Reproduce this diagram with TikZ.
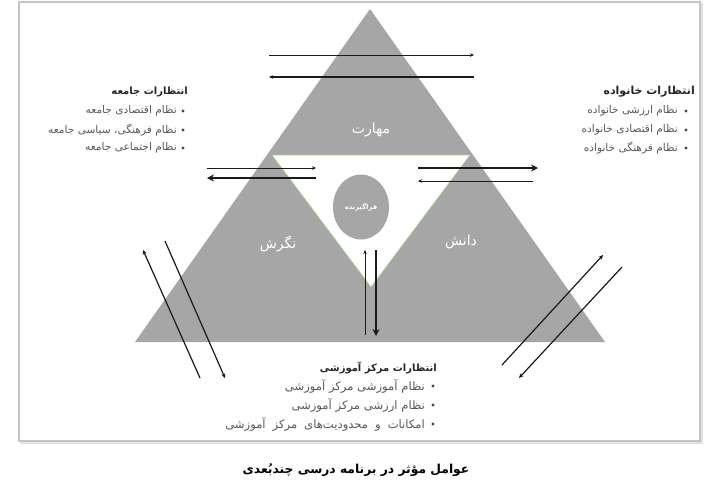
\documentclass[tikz,border=0pt]{standalone}
\usepackage{fontspec}
\setmainfont{DejaVu Sans}
\newfontfamily\arabicfont[Script=Arabic]{DejaVu Sans}
\TeXXeTstate=1
\usetikzlibrary{arrows.meta,shapes.geometric}
\definecolor{trigray}{HTML}{A6A6A6}
\definecolor{itemgray}{HTML}{595959}
\definecolor{headgray}{HTML}{262626}
\definecolor{edgegreen}{HTML}{A8D08D}
\definecolor{framegray}{HTML}{C4C4C4}
\definecolor{arrowblack}{HTML}{1A1A1A}
\tikzset{
  itemtext/.style={font=\arabicfont\fontsize{10.6}{12}\selectfont, text=itemgray, anchor=east, inner sep=0pt},
  bigitemtext/.style={font=\arabicfont\fontsize{11.6}{13}\selectfont, text=itemgray, anchor=east, inner sep=0pt},
  headtext/.style={font=\arabicfont\bfseries\fontsize{10}{12}\selectfont, text=headgray, anchor=east, inner sep=0pt},
  bulletdot/.style={circle, fill=itemgray!80!black, inner sep=0pt, minimum size=3.2pt},
  trilabel/.style={text=white, font=\arabicfont\fontsize{14}{16}\selectfont, inner sep=0pt},
  thinarrow/.style={draw=arrowblack, line width=0.9pt, -{Stealth[length=4pt,width=3.5pt]}},
  thickarrow/.style={draw=arrowblack, line width=2.2pt, -{Stealth[length=7pt,width=7pt]}},
  diagarrow/.style={draw=arrowblack, line width=1.2pt, -{Stealth[length=4.5pt,width=4pt]}},
}
\begin{document}
\begin{tikzpicture}[x=1pt,y=-1pt]
\useasboundingbox (0,0) rectangle (719,499);
% frame
\draw[draw=framegray!50, line width=2pt] (21,4) rectangle (702,443);
\draw[draw=framegray, line width=1.5pt, fill=white] (19,2) rectangle (700,441);
% big triangle
\fill[trigray] (370,9) -- (605,342) -- (135,342) -- cycle;
% inner inverted triangle
\filldraw[fill=white, draw=edgegreen, line width=0.6pt] (272,155) -- (470,155) -- (371,287) -- cycle;
% learner circle
\node[ellipse, fill=trigray, minimum width=56pt, minimum height=65pt, inner sep=0pt] (learner) at (361,207) {};
\node[text=white, font=\arabicfont\bfseries\fontsize{6.8}{8}\selectfont, inner sep=0pt] (learnerlabel) at (learner.center) {\beginR فراگیرنده\endR};
% triangle labels
\node[trilabel] (skill) at (371,130) {\beginR مهارت\endR};
\node[trilabel] (attitude) at (278,244) {\beginR نگرش\endR};
\node[trilabel] (knowledge) at (461,242) {\beginR دانش\endR};
% arrow coordinates
\coordinate (t1a) at (269,55); \coordinate (t1b) at (474,55);
\coordinate (t2a) at (474,77); \coordinate (t2b) at (269,77);
\coordinate (l1a) at (207,168); \coordinate (l1b) at (316,168);
\coordinate (l2a) at (316,178); \coordinate (l2b) at (207,178);
\coordinate (r1a) at (418,168); \coordinate (r1b) at (538,168);
\coordinate (r2a) at (533,181); \coordinate (r2b) at (418,181);
\coordinate (v1a) at (365,335); \coordinate (v1b) at (365,250);
\coordinate (v2a) at (376,250); \coordinate (v2b) at (376,336);
\coordinate (da1) at (200,378); \coordinate (da2) at (143,250);
\coordinate (db1) at (165,241); \coordinate (db2) at (225,378);
\coordinate (dc1) at (502,365); \coordinate (dc2) at (603,255);
\coordinate (dd1) at (622,267); \coordinate (dd2) at (519,378);
\draw[thinarrow] (t1a) -- (t1b);
\draw[thinarrow, line width=1.1pt] (t2a) -- (t2b);
\draw[thinarrow] (l1a) -- (l1b);
\draw[thickarrow] (l2a) -- (l2b);
\draw[thickarrow] (r1a) -- (r1b);
\draw[thinarrow] (r2a) -- (r2b);
\draw[thinarrow] (v1a) -- (v1b);
\draw[thickarrow] (v2a) -- (v2b);
\draw[diagarrow] (da1) -- (da2);
\draw[diagarrow] (db1) -- (db2);
\draw[diagarrow] (dc1) -- (dc2);
\draw[diagarrow] (dd1) -- (dd2);
% left block: society
\node[headtext] (socHead) at (188,92) {\beginR انتظارات جامعه\endR};
\node[bulletdot] (socB1) at (183,111) {};
\node[bulletdot] (socB2) at (183,130) {};
\node[bulletdot] (socB3) at (183,148) {};
\node[itemtext] (soc1) at (177,111) {\beginR نظام اقتصادی جامعه\endR};
\node[itemtext] (soc2) at (177,130) {\beginR نظام فرهنگی، سیاسی جامعه\endR};
\node[itemtext] (soc3) at (177,148) {\beginR نظام اجتماعی جامعه\endR};
% right block: family
\node[headtext, font=\arabicfont\bfseries\fontsize{11}{13}\selectfont] (famHead) at (695,92) {\beginR انتظارات خانواده\endR};
\node[bulletdot] (famB1) at (686,111) {};
\node[bulletdot] (famB2) at (686,130) {};
\node[bulletdot] (famB3) at (686,148) {};
\node[itemtext] (fam1) at (678,111) {\beginR نظام ارزشی خانواده\endR};
\node[itemtext] (fam2) at (678,130) {\beginR نظام اقتصادی خانواده\endR};
\node[itemtext] (fam3) at (678,148) {\beginR نظام فرهنگی خانواده\endR};
% bottom block: school
\node[headtext] (schHead) at (437,368) {\beginR انتظارات مرکز آموزشی\endR};
\node[bulletdot] (schB1) at (433,386) {};
\node[bulletdot] (schB2) at (433,405) {};
\node[bulletdot] (schB3) at (433,424) {};
\node[bigitemtext] (sch1) at (425,386) {\beginR نظام آموزشی مرکز آموزشی\endR};
\node[bigitemtext] (sch2) at (425,405) {\beginR نظام ارزشی مرکز آموزشی\endR};
\node[bigitemtext] (sch3) at (425,424) {\spaceskip=7pt plus 1pt\beginR امکانات و محدودیت‌های مرکز آموزشی\endR};
% caption
\node[font=\arabicfont\bfseries\fontsize{12.3}{14}\selectfont, text=black, inner sep=0pt] (caption) at (356,470) {\beginR عوامل مؤثر در برنامه درسی چندبُعدی\endR};
\end{tikzpicture}
\end{document}
